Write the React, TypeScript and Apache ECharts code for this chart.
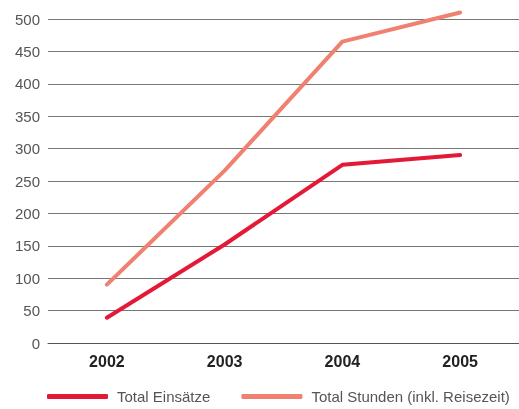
import React, { useEffect, useRef } from "react";
import * as echarts from "echarts";

const years = ["2002", "2003", "2004", "2005"];
const einsaetze = [39, 152, 275, 290];
const stunden = [90, 266, 465, 510];
const seriesNames = ["Total Einsätze", "Total Stunden (inkl. Reisezeit)"];

export default function App() {
  const ref = useRef<HTMLDivElement>(null);
  useEffect(() => {
    const chart = echarts.init(ref.current!, undefined, { renderer: "svg" });
    const font = "'Liberation Sans', Arial, sans-serif";
    chart.setOption({
      animation: false,
      grid: { left: 48, right: 0, top: 19, bottom: 66 },
      legend: {
        bottom: 0,
        left: 42,
        itemWidth: 61,
        itemHeight: 5,
        itemGap: 31,
        icon: "roundRect",
        textStyle: { fontFamily: font, fontSize: 15, color: "#555", padding: [0, 0, 0, 4] },
        data: seriesNames,
      },
      xAxis: {
        type: "category",
        data: years,
        boundaryGap: true,
        axisLine: { show: true, lineStyle: { color: "#555", width: 1 } },
        axisTick: { show: false },
        axisLabel: { fontFamily: font, fontSize: 16, fontWeight: "bold", color: "#222", margin: 10 },
      },
      yAxis: {
        type: "value",
        min: 0,
        max: 500,
        interval: 50,
        axisLine: { show: false },
        axisTick: { show: false },
        axisLabel: { fontFamily: font, fontSize: 15, color: "#555", margin: 8 },
        splitLine: { lineStyle: { color: "#777", width: 1 } },
      },
      series: [
        {
          name: seriesNames[0],
          type: "line",
          data: einsaetze,
          symbol: "none",
          clip: false,
          lineStyle: { color: "#E31937", width: 4, cap: "round", join: "round" },
          itemStyle: { color: "#E31937" },
        },
        {
          name: seriesNames[1],
          type: "line",
          data: stunden,
          symbol: "none",
          clip: false,
          lineStyle: { color: "#F08070", width: 4, cap: "round", join: "round" },
          itemStyle: { color: "#F08070" },
        },
      ],
    });
    return () => chart.dispose();
  }, []);
  return (
    <div
      ref={ref}
      style={{ position: "fixed", left: 0, top: 0, width: 519, height: 409 }}
    />
  );
}
